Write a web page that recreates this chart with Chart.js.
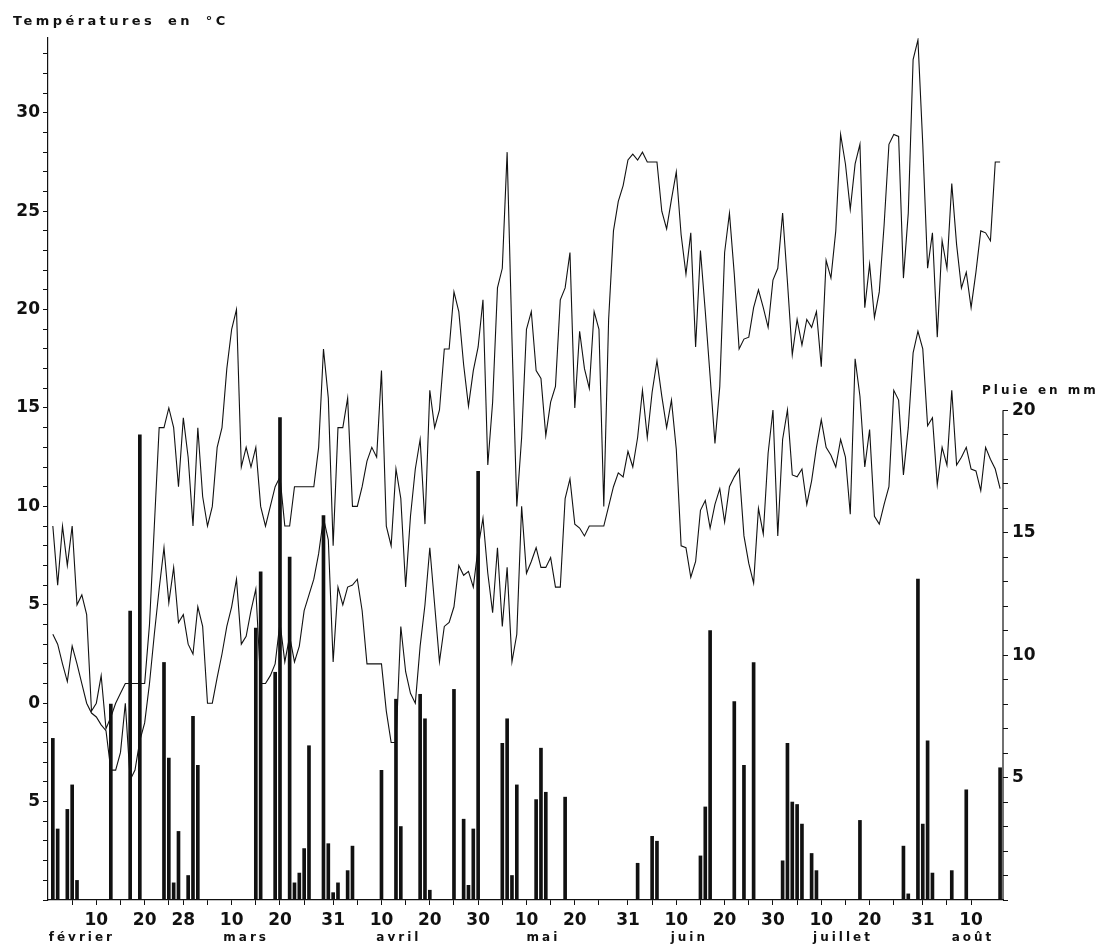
<!doctype html>
<html lang="fr">
<head>
<meta charset="utf-8" />
<title>Températures et pluie</title>
<script src="https://cdn.jsdelivr.net/npm/chart.js"></script>
<style>
  body { margin: 0; background: #fff; }
  #wrap { position: relative; width: 1099px; height: 948px; }
  .lbl {
    position: absolute;
    font-family: "DejaVu Sans", sans-serif;
    font-weight: bold;
    color: #111;
    white-space: nowrap;
    z-index: 2;
  }
  #tempTitle { left: 13px; top: 13px; font-size: 13px; letter-spacing: 3.4px; word-spacing: 5px; }
  #rainTitle { left: 982px; top: 383px; font-size: 12px; letter-spacing: 3px; }
</style>
</head>
<body>
<div id="wrap">
  <div id="tempTitle" class="lbl">Températures en °C</div>
  <div id="rainTitle" class="lbl">Pluie en mm</div>
  <canvas id="chart"></canvas>
</div>
<script>
// daily values, day 1 = 1 février
const maxTemp = [
  9, 6, 9, 7, 9, 5, 5.5, 4.5, -0.4, 0,
  1.4, -1.3, -0.7, 0, 0.5, 1, 1, 1, 1, 1,
  4, 9, 14, 14, 15, 14, 11, 14.5, 12.5, 9,
  14, 10.5, 9, 10, 13, 14, 17, 19, 20, 12,
  13, 12, 13, 10, 9, 10, 11, 11.5, 9, 9,
  11, 11, 11, 11, 11, 13, 18, 15.5, 8, 14,
  14, 15.5, 10, 10, 11, 12.3, 13, 12.5, 16.9, 9,
  8, 11.9, 10.4, 5.9, 9.5, 11.9, 13.4, 9.1, 15.9, 14,
  14.9, 18, 18, 20.9, 19.9, 17.2, 15.1, 16.9, 18.1, 20.5,
  12.1, 15.3, 21.1, 22.1, 28, 18.5, 10, 13.5, 19, 19.9,
  16.9, 16.5, 13.6, 15.3, 16.1, 20.5, 21.1, 22.9, 15, 18.9,
  17, 16, 19.9, 19, 10, 19.5, 24, 25.5, 26.3, 27.6,
  27.9, 27.6, 28, 27.5, 27.5, 27.5, 25, 24.1, 25.6, 27,
  23.8, 21.8, 23.9, 18.1, 23, 19.9, 16.6, 13.2, 16.1, 22.9,
  24.9, 21.8, 18, 18.5, 18.6, 20.1, 21, 20.1, 19.1, 21.5,
  22.1, 24.9, 21.4, 17.7, 19.5, 18.2, 19.5, 19.1, 19.9, 17.1,
  22.5, 21.6, 24, 28.9, 27.4, 25.1, 27.4, 28.4, 20.1, 22.3,
  19.6, 20.9, 24.3, 28.4, 28.9, 28.8, 21.6, 24.9, 32.7, 33.7,
  28.4, 22.1, 23.9, 18.6, 23.5, 22.1, 26.4, 23.3, 21.1, 21.9,
  20.1, 21.9, 24, 23.9, 23.5, 27.5, 27.5
];

const minTemp = [
  3.5, 3, 2, 1.1, 2.9, 2, 1, 0, -0.5, -0.7,
  -1.1, -1.4, -3.4, -3.4, -2.5, 0, -3.9, -3.4, -1.9, -1,
  1, 3.5, 5.8, 7.9, 5.1, 6.9, 4.1, 4.5, 3, 2.5,
  4.9, 3.9, 0, 0, 1.3, 2.5, 3.9, 4.9, 6.3, 3,
  3.4, 4.7, 5.8, 1, 1, 1.4, 2, 4.1, 2.1, 3.4,
  2.1, 2.9, 4.7, 5.5, 6.3, 7.6, 9.4, 8.3, 2.1, 5.9,
  5, 5.9, 6, 6.3, 4.7, 2, 2, 2, 2, -0.4,
  -2, -2, 3.9, 1.6, 0.5, 0, 2.9, 5, 7.9, 5,
  2.1, 3.9, 4.1, 4.9, 7, 6.5, 6.7, 5.9, 7.9, 9.4,
  6.6, 4.6, 7.9, 3.9, 6.9, 2.1, 3.5, 10, 6.6, 7.2,
  7.9, 6.9, 6.9, 7.4, 5.9, 5.9, 10.4, 11.4, 9.1, 8.9,
  8.5, 9, 9, 9, 9, 10, 11, 11.7, 11.5, 12.8,
  12, 13.5, 15.9, 13.5, 15.8, 17.4, 15.6, 14, 15.4, 12.9,
  8, 7.9, 6.4, 7.2, 9.8, 10.3, 8.9, 10.1, 10.9, 9.2,
  11, 11.5, 11.9, 8.5, 7.1, 6.1, 9.9, 8.6, 12.7, 14.9,
  8.5, 13.4, 14.9, 11.6, 11.5, 11.9, 10.1, 11.3, 13, 14.4,
  13, 12.6, 12, 13.4, 12.5, 9.6, 17.5, 15.6, 12, 13.9,
  9.5, 9.1, 10.1, 11, 15.9, 15.4, 11.6, 14, 17.8, 18.9,
  18, 14.1, 14.5, 11.1, 13, 12.1, 15.9, 12.1, 12.5, 13,
  11.9, 11.8, 10.8, 13, 12.4, 11.9, 10.9
];

// pluie : jour -> mm
const rainDays = [1, 2, 4, 5, 6, 13, 17, 19, 24, 25, 26, 27, 29, 30, 31,
  43, 44, 47, 48, 50, 51, 52, 53, 54, 57, 58, 59, 60, 62, 63,
  69, 72, 73, 77, 78, 79, 84, 86, 87, 88, 89, 94, 95, 96, 97,
  101, 102, 103, 107, 122, 125, 126, 135, 136, 137, 142, 144, 146,
  152, 153, 154, 155, 156, 158, 159, 168, 177, 178, 180, 181, 182, 183,
  187, 190, 197];
const rainMm = [6.6, 2.9, 3.7, 4.7, 0.8, 8.0, 11.8, 19.0, 9.7, 5.8, 0.7, 2.8, 1.0, 7.5, 5.5,
  11.1, 13.4, 9.3, 19.7, 14.0, 0.7, 1.1, 2.1, 6.3, 15.7, 2.3, 0.3, 0.7, 1.2, 2.2,
  5.3, 8.2, 3.0, 8.4, 7.4, 0.4, 8.6, 3.3, 0.6, 2.9, 17.5, 6.4, 7.4, 1.0, 4.7,
  4.1, 6.2, 4.4, 4.2, 1.5, 2.6, 2.4, 1.8, 3.8, 11.0, 8.1, 5.5, 9.7,
  1.6, 6.4, 4.0, 3.9, 3.1, 1.9, 1.2, 3.25, 2.2, 0.25, 13.1, 3.1, 6.5, 1.1,
  1.2, 4.5, 5.4];

// graduations de l'axe des dates
const tickDays = [5, 10, 15, 20, 25, 28, 33, 38, 43, 48, 53, 59, 64, 69, 74, 79, 84, 89,
  94, 99, 104, 109, 114, 120, 125, 130, 135, 140, 145, 150, 155, 160, 165, 170, 175, 181,
  186, 191];
const tickLabels = ['', '10', '', '20', '', '28', '', '10', '', '20', '', '31', '', '10', '', '20', '', '30',
  '', '10', '', '20', '', '31', '', '10', '', '20', '', '30', '', '10', '', '20', '', '31',
  '', '10'];

const monthCenters = [7, 41, 72.6, 102.5, 132.7, 164.5, 191.4];
const monthNames = ['février', 'mars', 'avril', 'mai', 'juin', 'juillet', 'août'];

const INK = '#111';
const FONT = "'DejaVu Sans', sans-serif";
const tickFont = { family: FONT, size: 17, weight: 'bold' };

// axe pluie : trait seulement de 0 à 20 mm
const rainAxisLine = {
  id: 'rainAxisLine',
  afterDraw(chart) {
    const s = chart.scales.y2;
    const ctx = chart.ctx;
    ctx.save();
    ctx.strokeStyle = INK;
    ctx.lineWidth = 1.2;
    ctx.beginPath();
    ctx.moveTo(s.left, s.getPixelForValue(0));
    ctx.lineTo(s.left, s.getPixelForValue(20));
    ctx.stroke();
    ctx.restore();
  }
};

// mois en lettres espacées (ces étiquettes sont dessinées après les données)
const spacedMonths = {
  id: 'spacedMonths',
  afterDatasetsDraw(chart) { chart.ctx.letterSpacing = '3px'; },
  afterDraw(chart) { chart.ctx.letterSpacing = '0px'; }
};

new Chart(document.getElementById('chart'), {
  type: 'bar',
  data: {
    datasets: [
      {
        type: 'line',
        label: 'Maximum',
        data: maxTemp.map((v, i) => ({ x: i + 1, y: v })),
        borderColor: INK,
        borderWidth: 1.1,
        pointRadius: 0,
        tension: 0,
        yAxisID: 'y'
      },
      {
        type: 'line',
        label: 'Minimum',
        data: minTemp.map((v, i) => ({ x: i + 1, y: v })),
        borderColor: INK,
        borderWidth: 1.1,
        pointRadius: 0,
        tension: 0,
        yAxisID: 'y'
      },
      {
        type: 'bar',
        label: 'Pluie',
        data: rainDays.map((d, i) => ({ x: d, y: rainMm[i] })),
        backgroundColor: INK,
        barThickness: 3,
        yAxisID: 'y2'
      }
    ]
  },
  options: {
    animation: false,
    responsive: true,
    maintainAspectRatio: false,
    layout: { padding: { top: 38, left: 0, right: 0, bottom: 0 } },
    plugins: { legend: { display: false }, tooltip: { enabled: false } },
    scales: {
      x: {
        type: 'linear',
        position: 'bottom',
        min: 0,
        max: 197.6,
        offset: false,
        weight: 0,
        afterBuildTicks: s => { s.ticks = tickDays.map(v => ({ value: v })); },
        afterFit: s => { s.height = 26; },
        grid: { offset: false, drawOnChartArea: false, tickLength: 5, color: INK },
        border: { color: INK, width: 1.2 },
        ticks: {
          autoSkip: false, maxRotation: 0, padding: 5,
          color: INK, font: tickFont,
          callback: (v, i) => tickLabels[i]
        }
      },
      xm: {
        type: 'linear',
        position: 'bottom',
        min: 0,
        max: 197.6,
        offset: false,
        weight: 1,
        afterBuildTicks: s => { s.ticks = monthCenters.map(v => ({ value: v })); },
        afterFit: s => { s.height = 22; },
        grid: { display: false, drawTicks: false, offset: false },
        border: { display: false },
        ticks: {
          z: 1, autoSkip: false, maxRotation: 0, padding: 5,
          color: INK, font: { family: FONT, size: 12, weight: 'bold' },
          callback: (v, i) => monthNames[i]
        }
      },
      y: {
        position: 'left',
        min: -10,
        max: 33.8,
        afterBuildTicks: s => {
          const t = [];
          for (let v = -10; v <= 33; v++) t.push({ value: v });
          s.ticks = t;
        },
        afterFit: s => { s.width = 48; },
        grid: { drawOnChartArea: false, tickLength: 5, color: INK },
        border: { color: INK, width: 1.2 },
        ticks: {
          autoSkip: false, padding: 3, color: INK, font: tickFont,
          callback: v => (v % 5 === 0 && v > -10) ? String(Math.abs(v)) : ''
        }
      },
      y2: {
        position: 'right',
        min: 0,
        max: 35.2,
        afterBuildTicks: s => {
          const t = [];
          for (let v = 0; v <= 20; v++) t.push({ value: v });
          s.ticks = t;
        },
        afterFit: s => { s.width = 96; },
        grid: { drawOnChartArea: false, tickLength: 5, color: INK },
        border: { display: false },
        ticks: {
          autoSkip: false, padding: 4, color: INK, font: tickFont,
          callback: v => (v % 5 === 0 && v > 0) ? String(v) : ''
        }
      }
    }
  },
  plugins: [rainAxisLine, spacedMonths]
});
</script>
</body>
</html>
